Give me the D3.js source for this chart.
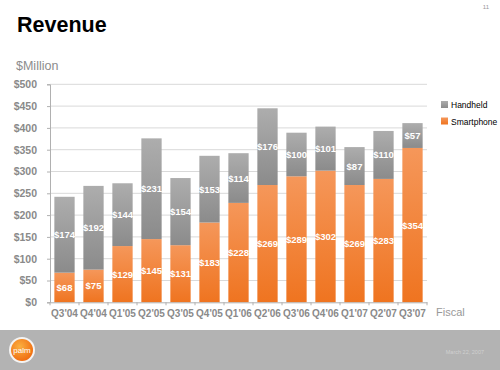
<!DOCTYPE html>
<html><head><meta charset="utf-8">
<script src="https://cdn.jsdelivr.net/npm/d3@7"></script>
<style>body{margin:0;background:#fff}svg{display:block}</style>
</head><body><svg id="c" width="500" height="370"></svg>
<script>
const categories = ["Q3'04","Q4'04","Q1'05","Q2'05","Q3'05","Q4'05","Q1'06","Q2'06","Q3'06","Q4'06","Q1'07","Q2'07","Q3'07"];
const smartphone = [68,75,129,145,131,183,228,269,289,302,269,283,354];
const handheld = [174,192,144,231,154,153,114,176,100,101,87,110,57];
const yTicks = [0,50,100,150,200,250,300,350,400,450,500];
const seriesNames = ["Handheld","Smartphone"];

const svg = d3.select("#c");
const font = "Arial, 'Liberation Sans', sans-serif";
const defs = svg.append("defs");
const g1 = defs.append("linearGradient").attr("id","gGray").attr("x1",0).attr("y1",0).attr("x2",0).attr("y2",1);
g1.append("stop").attr("offset",0).attr("stop-color","#adadad");
g1.append("stop").attr("offset",1).attr("stop-color","#8b8b8b");
const g2 = defs.append("linearGradient").attr("id","gOrange").attr("x1",0).attr("y1",0).attr("x2",0).attr("y2",1);
g2.append("stop").attr("offset",0).attr("stop-color","#f5975a");
g2.append("stop").attr("offset",1).attr("stop-color","#ef7420");
const rg = defs.append("radialGradient").attr("id","gLogo").attr("cx",0.4).attr("cy",0.35).attr("r",0.7);
rg.append("stop").attr("offset",0).attr("stop-color","#fbb040");
rg.append("stop").attr("offset",1).attr("stop-color","#ef6a10");

// title
svg.append("text").attr("x",17).attr("y",32).text("Revenue")
  .attr("font-family",font).attr("font-weight","bold").attr("font-size",21.5).attr("fill","#000");
svg.append("text").attr("x",16).attr("y",69.5).text("$Million")
  .attr("font-family",font).attr("font-size",12.5).attr("fill","#8c8c8c");
svg.append("text").attr("x",489).attr("y",9).attr("text-anchor","end").text("11")
  .attr("font-family",font).attr("font-size",6).attr("fill","#999");

const x = d3.scaleBand().domain(categories).range([50,427]).paddingInner(0.3).paddingOuter(0.15);
const y = d3.scaleLinear().domain([0,500]).range([302.3,84.3]);

// gridlines
svg.append("g").selectAll("line").data(yTicks.filter(d=>d>0)).join("line")
  .attr("x1",50).attr("x2",427).attr("y1",d=>y(d)).attr("y2",d=>y(d))
  .attr("stroke","#d9d9d9").attr("stroke-width",1);

// y axis
const yAx = svg.append("g").attr("transform","translate(50,0)")
  .call(d3.axisLeft(y).tickValues(yTicks).tickSize(3).tickPadding(10).tickFormat(d=>"$"+d));
yAx.select(".domain").attr("stroke","#b0b0b0");
yAx.selectAll(".tick line").attr("stroke","#b0b0b0");
yAx.selectAll("text").attr("font-family",font).attr("font-weight","bold").attr("font-size",10.5).attr("fill","#8a8a8a");

// bars
const data = categories.map((c,i)=>({c, s:smartphone[i], h:handheld[i]}));
const bars = svg.append("g");
bars.selectAll(".sp").data(data).join("rect").attr("class","sp")
  .attr("x",d=>x(d.c)).attr("width",x.bandwidth())
  .attr("y",d=>y(d.s)).attr("height",d=>y(0)-y(d.s)).attr("fill","url(#gOrange)");
bars.selectAll(".hh").data(data).join("rect").attr("class","hh")
  .attr("x",d=>x(d.c)).attr("width",x.bandwidth())
  .attr("y",d=>y(d.s+d.h)).attr("height",d=>y(d.s)-y(d.s+d.h)).attr("fill","url(#gGray)");
const lbl = svg.append("g").attr("font-family",font).attr("font-weight","bold").attr("font-size",9.5)
  .attr("fill","#fff").attr("text-anchor","middle");
lbl.selectAll(".ls").data(data).join("text").attr("class","ls")
  .attr("x",d=>x(d.c)+x.bandwidth()/2).attr("y",d=>y(d.s/2)+3.5).text(d=>"$"+d.s);
lbl.selectAll(".lh").data(data).join("text").attr("class","lh")
  .attr("x",d=>x(d.c)+x.bandwidth()/2).attr("y",d=>y(d.s+d.h/2)+3.5).text(d=>"$"+d.h);

// x axis
const xAx = svg.append("g").attr("transform","translate(0,302.3)")
  .call(d3.axisBottom(x).tickSize(0).tickPadding(8));
xAx.select(".domain").attr("stroke","#b0b0b0");
xAx.selectAll("text").attr("font-family",font).attr("font-weight","bold").attr("font-size",10).attr("fill","#8a8a8a");
const step = x.step();
const bounds = d3.range(categories.length+1).map(i=>50+ (i===0?0: (x(categories[0])-x.paddingInner()*step/2) + i*step - 50));
svg.append("g").selectAll("line").data(bounds).join("line")
  .attr("x1",d=>d).attr("x2",d=>d).attr("y1",302.3).attr("y2",305.3).attr("stroke","#b0b0b0");
svg.append("text").attr("x",436).attr("y",316).text("Fiscal")
  .attr("font-family",font).attr("font-size",11).attr("fill","#999");

// legend
const leg = svg.append("g");
seriesNames.forEach((n,i)=>{
  const yy = 101 + i*16.5;
  leg.append("rect").attr("x",441).attr("y",yy).attr("width",7).attr("height",7)
    .attr("fill", i===0?"url(#gGray)":"url(#gOrange)");
  leg.append("text").attr("x",451).attr("y",yy+7).text(n)
    .attr("font-family",font).attr("font-size",8.5).attr("fill","#000");
});

// footer
svg.append("rect").attr("x",0).attr("y",330).attr("width",500).attr("height",40).attr("fill","#b3b3b3");
svg.append("circle").attr("cx",22).attr("cy",350).attr("r",13).attr("fill","#f4f4f4");
svg.append("circle").attr("cx",22).attr("cy",350).attr("r",11).attr("fill","url(#gLogo)");
svg.append("text").attr("x",22).attr("y",353).attr("text-anchor","middle").text("palm")
  .attr("font-family",font).attr("font-size",8).attr("fill","#fff");
svg.append("text").attr("x",484).attr("y",354).attr("text-anchor","end").text("March 22, 2007")
  .attr("font-family",font).attr("font-size",5.5).attr("fill","#d0d0d0");
</script></body></html>
